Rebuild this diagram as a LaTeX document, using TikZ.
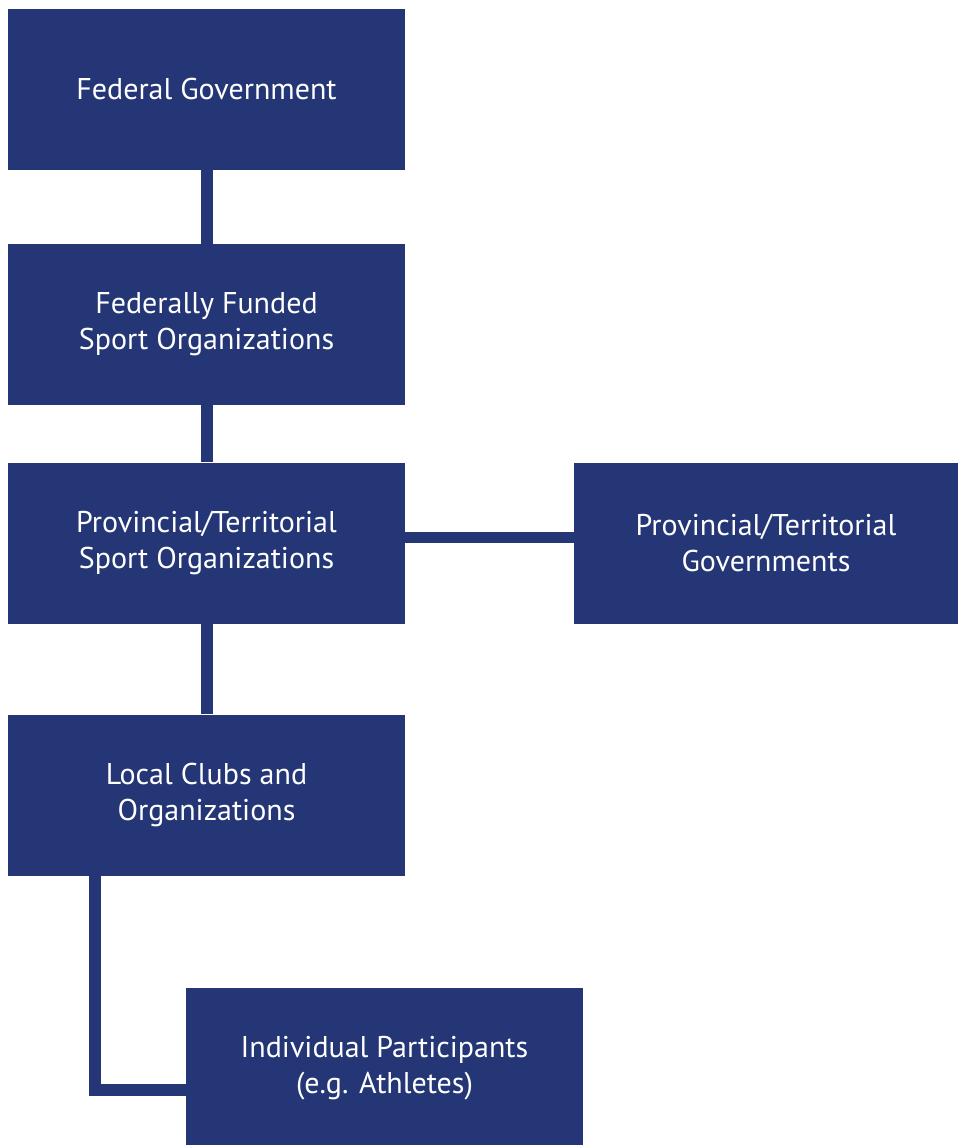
\documentclass[tikz,border=0pt]{standalone}
\usepackage{fontspec}
\setmainfont{PT Sans}
\definecolor{navy}{RGB}{36,54,117}
\tikzset{
  orgbox/.style={fill=navy, draw=none, text=white, minimum width=397pt,
    minimum height=161pt, align=center, inner sep=0pt,
    font=\fontsize{30}{36}\selectfont},
  link/.style={draw=navy, line width=12pt}
}
\begin{document}
\begin{tikzpicture}[x=1pt,y=-1pt]
  \useasboundingbox (0,0) rectangle (958,1145);
  \clip (0,0) rectangle (958,1145);
  \node[orgbox] (fed) at (206.5,89.5) {Federal Government};
  \node[orgbox] (ffso) at (206.5,324.5) {Federally Funded\\Sport Organizations};
  \node[orgbox] (ptso) at (206.5,543) {Provincial/Territorial\\Sport Organizations};
  \node[orgbox, minimum width=384pt] (ptg) at (766,543) {Provincial/Territorial\\Governments};
  \node[orgbox] (local) at (206.5,795) {Local Clubs and\\Organizations};
  \node[orgbox] (indiv) at (384.5,1068.5) {Individual Participants\\(e.g. Athletes)};
  % connectors
  \draw[link] (fed.south) -- (ffso.north);
  \draw[link] (ffso.south) -- (ptso.north);
  \draw[link, line width=11pt] ([yshift=6pt]ptso.east) -- ([yshift=6pt]ptg.west);
  \draw[link] (ptso.south) -- (local.south |- local.north);
  \draw[link] ([xshift=87.5pt]local.south west) |- ([yshift=-21.5pt]indiv.west);
\end{tikzpicture}
\end{document}
